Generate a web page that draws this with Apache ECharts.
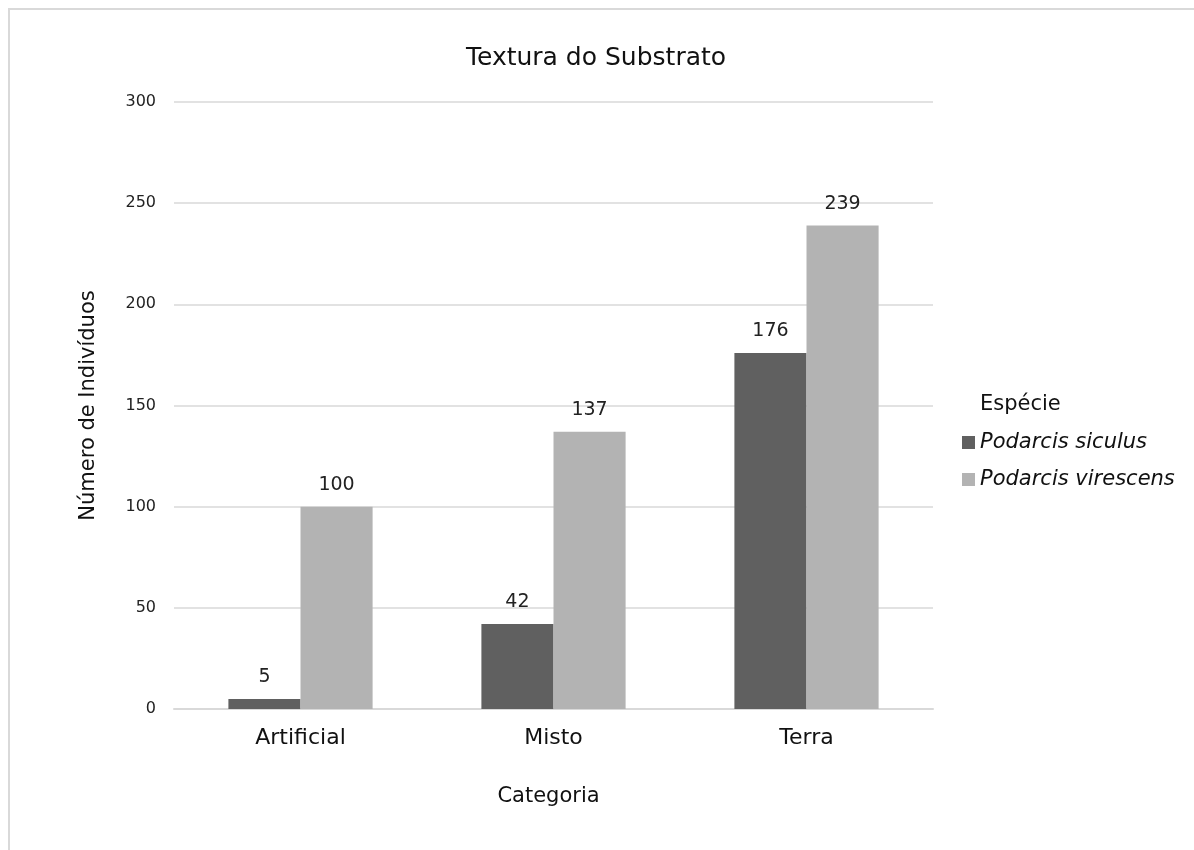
<!DOCTYPE html>
<html><head><meta charset="utf-8">
<script src="https://cdn.jsdelivr.net/npm/echarts@6/dist/echarts.min.js"></script>
<style>
html,body{margin:0;padding:0;background:#fff;}
#frame{position:absolute;left:8px;top:8px;width:1186px;height:842px;border-left:2px solid #d9d9d9;border-top:2px solid #d9d9d9;box-sizing:border-box;}
#c{position:absolute;left:0;top:0;width:1194px;height:850px;}
</style></head>
<body>
<div id="frame"></div>
<div id="c"></div>
<script>
const categories = ['Artificial', 'Misto', 'Terra'];
const siculus = [5, 42, 176];
const virescens = [100, 137, 239];
const yTicks = [0, 50, 100, 150, 200, 250, 300];

const FONT = 'DejaVu Sans';
const chart = echarts.init(document.getElementById('c'));
const labelStyle = {show: true, position: 'top', fontSize: 19, color: '#222', fontFamily: FONT, distance: 12};
chart.setOption({
  animation: false,
  textStyle: {fontFamily: FONT},
  title: [
    {text: 'Textura do Substrato', left: 591, top: 41, textAlign: 'center',
     textStyle: {fontSize: 25, fontWeight: 'normal', color: '#111', fontFamily: FONT}},
    {text: 'Espécie', left: 975, top: 389,
     textStyle: {fontSize: 21, fontWeight: 'normal', color: '#111', fontFamily: FONT}}
  ],
  legend: {
    orient: 'vertical', left: 957, top: 427, itemWidth: 13, itemHeight: 13, itemGap: 16,
    icon: 'rect',
    textStyle: {fontSize: 21, fontStyle: 'italic', color: '#111', fontFamily: FONT, padding: [0,0,0,0]},
    data: ['Podarcis siculus', 'Podarcis virescens']
  },
  grid: {left: 174, right: 261, top: 102, bottom: 141, containLabel: false},
  xAxis: {
    type: 'category', data: categories,
    name: 'Categoria', nameLocation: 'middle', nameGap: 77,
    nameTextStyle: {fontSize: 21, color: '#111', fontFamily: FONT, padding: [0, 10, 0, 0]},
    axisLine: {lineStyle: {color: '#d9d9d9', width: 2}},
    axisTick: {show: false},
    axisLabel: {fontSize: 22, color: '#111', margin: 18, fontFamily: FONT}
  },
  yAxis: {
    type: 'value', min: 0, max: 300, interval: 50,
    name: 'Número de Indivíduos', nameLocation: 'middle', nameGap: 75,
    nameTextStyle: {fontSize: 21, color: '#111', fontFamily: FONT},
    axisLine: {show: false}, axisTick: {show: false},
    axisLabel: {fontSize: 16, color: '#222', margin: 18, fontFamily: FONT,
      formatter: v => yTicks.includes(v) ? String(v) : ''},
    splitLine: {lineStyle: {color: '#d9d9d9', width: 1.5}}
  },
  series: [
    {name: 'Podarcis siculus', type: 'bar', data: siculus, barGap: '0%', barCategoryGap: '43%',
     itemStyle: {color: '#606060'}, label: labelStyle},
    {name: 'Podarcis virescens', type: 'bar', data: virescens, barGap: '0%', barCategoryGap: '43%',
     itemStyle: {color: '#b3b3b3'}, label: labelStyle}
  ]
});
</script>
</body></html>
